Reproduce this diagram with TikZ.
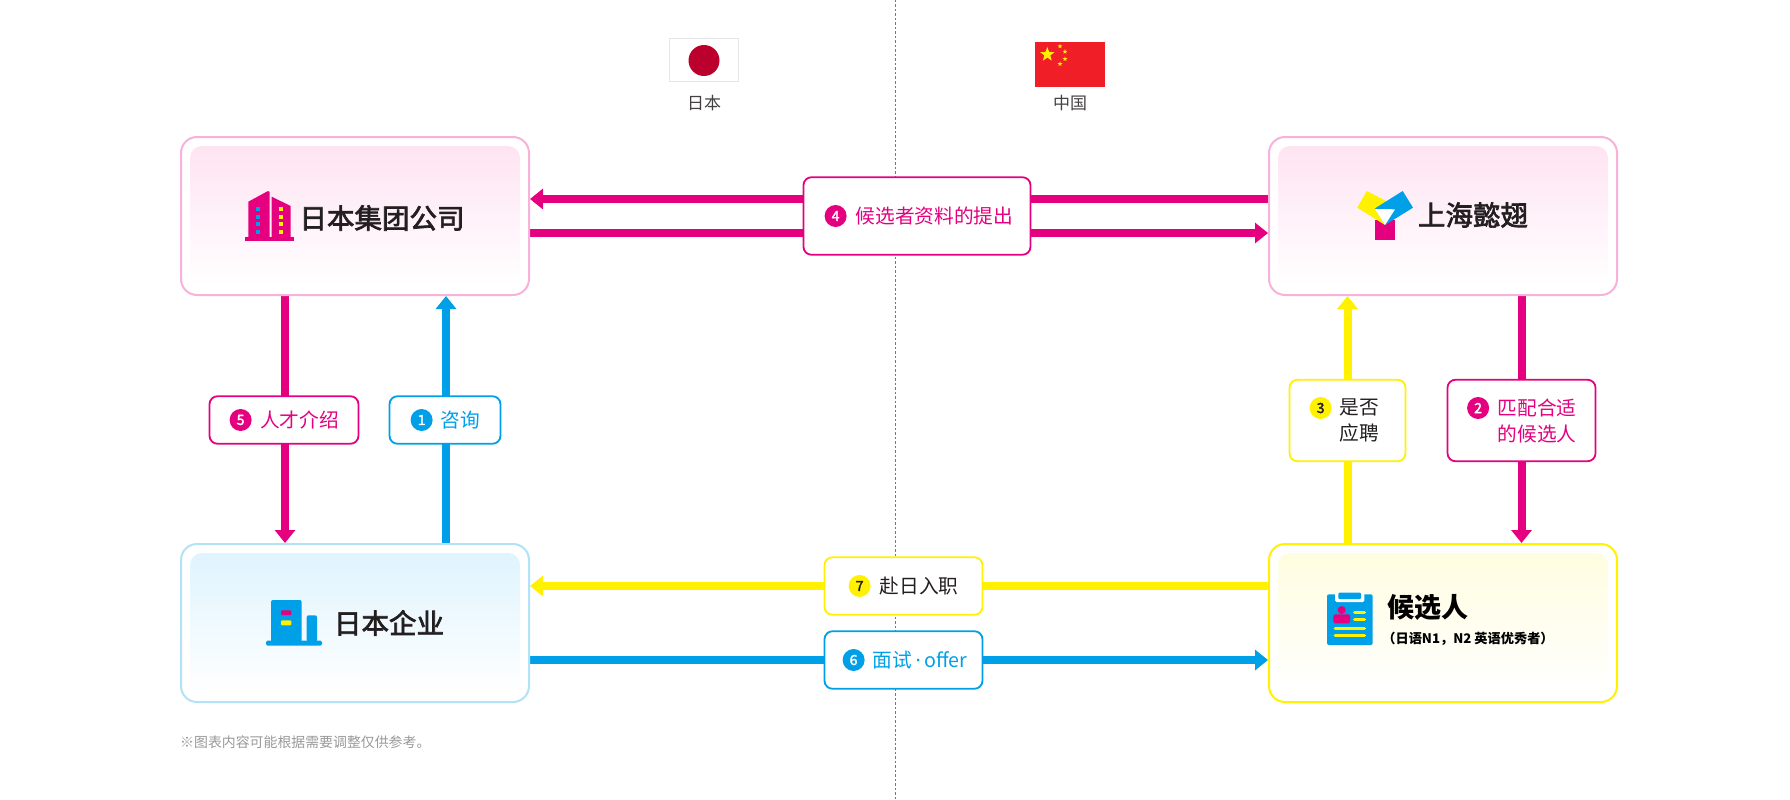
\documentclass[tikz,border=0pt]{standalone}
\usepackage{fontspec}
\setmainfont{Noto Sans CJK SC}
\newfontfamily\cjkmedium[FakeBold=2.5]{Noto Sans CJK SC}
\newfontfamily\latindot{Noto Sans}
\usetikzlibrary{shapes.geometric, arrows.meta, positioning, backgrounds}

\definecolor{brandpink}{HTML}{E4007F}
\definecolor{brandblue}{HTML}{00A0E9}
\definecolor{brandyellow}{HTML}{FFF100}
\definecolor{inkdark}{HTML}{231F20}
\definecolor{glowpink}{HTML}{FEE4F2}
\definecolor{glowblue}{HTML}{DFF4FE}
\definecolor{glowyellow}{HTML}{FFFDE0}
\definecolor{japanred}{HTML}{BC002D}
\definecolor{chinared}{HTML}{F01E26}

\newcommand{\numgap}{\hspace*{31pt}}

\begin{document}
\begin{tikzpicture}[x=1pt, y=-1pt]
\tikzset{
  party/.style={
    rectangle, rounded corners=16pt, draw, line width=2pt, fill=white,
    minimum width=348pt, minimum height=158pt, inner sep=0pt
  },
  glow/.style={
    rectangle, rounded corners=12pt, bottom color=white,
    minimum width=330pt, minimum height=140pt, inner sep=0pt
  },
  title/.style={font=\fontsize{27.5}{30}\selectfont\cjkmedium, text=inkdark, inner sep=0pt},
  flagname/.style={font=\fontsize{17}{20}\selectfont, text=inkdark!85, inner sep=0pt},
  stepnote/.style={
    rectangle, rounded corners=8pt, draw, line width=1.8pt, fill=white, align=left,
    font=\fontsize{19.7}{26}\selectfont, inner sep=0pt
  },
  stepnum/.style={
    circle, inner sep=0pt, minimum size=22pt, text=white,
    font=\fontsize{14}{14}\selectfont\cjkmedium
  },
  flow/.style={-{Triangle[length=13pt, width=20pt]}, line width=8pt},
  flagstar/.style={
    star, star points=5, star point ratio=2.4, fill=brandyellow, inner sep=0pt
  },
}

\useasboundingbox (0,0) rectangle (1790,800);

%% ---- PARTIES ----
\node[party, draw=brandpink!30] (groupco) at (355,216) {};
\node[glow, top color=glowpink] (groupglow) at (355,216) {};
\node[title] (grouptxt) at (382,218) {日本集团公司};

\node[party, draw=brandpink!30] (yishi) at (1443,216) {};
\node[glow, top color=glowpink] (yishiglow) at (1443,216) {};
\node[title] (yishitxt) at (1473,215) {上海懿翅};

\node[party, draw=brandblue!30] (company) at (355,623) {};
\node[glow, top color=glowblue] (companyglow) at (355,623) {};
\node[title] (companytxt) at (389,623) {日本企业};

\node[party, draw=brandyellow] (talent) at (1443,623) {};
\node[glow, top color=glowyellow] (talentglow) at (1443,623) {};
\node[title, font=\fontsize{27}{30}\selectfont\bfseries, text=black] (talenttxt) at (1427.5,607) {候选人};
\node[inner sep=0pt, font=\fontsize{13.2}{15}\selectfont\bfseries, text=black] (talentsub) at (1468,639) {（日语N1，N2 英语优秀者）};

%% ---- FLAGS ----
\node[flagname] (jpname) at (704,103) {日本};
\node[flagname] (cnname) at (1070,103) {中国};

\draw[black!10, line width=1pt, fill=white] (669.5,38.5) rectangle (738.5,81.5);
\fill[japanred] (704,60.5) circle (15.5);

\fill[chinared] (1035,42) rectangle (1105,87);
\node[flagstar, minimum size=15pt] (bigstar) at (1047.3,54.5) {};
\foreach \sx/\sy [count=\si] in {1060/46.3, 1065/51.7, 1065/59, 1060/64}
  \node[flagstar, minimum size=5pt] (star\si) at (\sx,\sy) {};

%% ---- STEP NOTES ----
\node[stepnote, draw=brandblue, text=brandblue, minimum width=111pt, minimum height=47.5pt] (note1) at (445,420) {\numgap 咨询};
\node[stepnum, fill=brandblue] (num1) at ([xshift=33pt]note1.west) {1};

\node[stepnote, draw=brandpink, text=brandpink, minimum width=148pt, minimum height=81.5pt] (note2) at (1521.5,420.5) {\numgap 匹配合适\\\numgap 的候选人};
\node[stepnum, fill=brandpink] (num2) at ([xshift=31.5pt, yshift=12.5pt]note2.west) {2};

\node[stepnote, draw=brandyellow, text=inkdark, minimum width=116pt, minimum height=81.5pt] (note3) at (1347.5,420.5) {\hspace*{24pt}是否\\\hspace*{24pt}应聘};
\node[stepnum, fill=brandyellow, text=inkdark] (num3) at ([xshift=32pt, yshift=12.5pt]note3.west) {3};

\node[stepnote, draw=brandpink, text=brandpink, minimum width=227pt, minimum height=77.5pt] (note4) at (917,216) {\hspace*{35pt}候选者资料的提出};
\node[stepnum, fill=brandpink] (num4) at ([xshift=33pt]note4.west) {4};

\node[stepnote, draw=brandpink, text=brandpink, minimum width=149pt, minimum height=47.5pt] (note5) at (284,420) {\numgap 人才介绍};
\node[stepnum, fill=brandpink] (num5) at ([xshift=32pt]note5.west) {5};

\node[stepnote, draw=brandblue, text=brandblue, minimum width=158pt, minimum height=57.5pt] (note6) at (903.5,660) {\hspace*{33pt}面试{\latindot\,·\,}offer};
\node[stepnum, fill=brandblue] (num6) at ([xshift=30pt]note6.west) {6};

\node[stepnote, draw=brandyellow, text=inkdark, minimum width=158pt, minimum height=57.5pt] (note7) at (903.5,586) {\numgap 赴日入职};
\node[stepnum, fill=brandyellow, text=inkdark] (num7) at ([xshift=36pt]note7.west) {7};

%% ---- CONNECTORS ----
\begin{scope}[on background layer]
  \draw[brandblue, line width=1.2pt, dash pattern=on 2.5pt off 2pt] (895.8,0) -- (895.8,800);

  \draw[flow, brandblue] ([xshift=1pt]note1.center |- company.north) -- ([xshift=1pt]note1.center |- groupco.south);
  \draw[flow, brandpink] ([xshift=1pt]note5.center |- groupco.south) -- ([xshift=1pt]note5.center |- company.north);
  \draw[flow, brandyellow] (note3.center |- talent.north) -- (note3.center |- yishi.south);
  \draw[flow, brandpink] (note2.center |- yishi.south) -- (note2.center |- talent.north);

  \draw[flow, brandpink] ([yshift=17pt]note4.center -| yishi.west) -- ([yshift=17pt]note4.center -| groupco.east);
  \draw[flow, brandpink] ([yshift=-17pt]note4.center -| groupco.east) -- ([yshift=-17pt]note4.center -| yishi.west);
  \draw[flow, brandyellow] (note7.center -| talent.west) -- (note7.center -| company.east);
  \draw[flow, brandblue] (note6.center -| company.east) -- (note6.center -| talent.west);
\end{scope}

%% ---- ICONS ----
% group building
\fill[brandpink] (245,237) rectangle (294,241);
\fill[brandpink] (248.3,237) -- (248.3,201.7) -- (268,191) -- (269.7,192) -- (269.7,237) -- cycle;
\fill[brandpink] (271.7,237) -- (271.7,196.7) -- (290.7,206) -- (290.7,237) -- cycle;
\foreach \wy in {209,216.7,224,231.7} {
  \fill[brandblue] (255.7,\wy-2) rectangle ++(4,4);
  \fill[brandyellow] (279,\wy-2) rectangle ++(4,4);
}
% logo
\fill[brandpink] (1374.7,220) rectangle (1395.3,240);
\fill[brandyellow] (1366.7,191) -- (1357.3,207.7) -- (1385,225) -- (1390,203) -- cycle;
\fill[brandblue] (1375,208.3) -- (1402.7,191) -- (1413,207.7) -- (1385,225) -- cycle;
\fill[white] (1375,209) -- (1395,209.3) -- (1385,225) -- cycle;
% company building
\fill[brandblue, rounded corners=1.5pt] (266,640.7) rectangle (322,645.7);
\fill[brandblue, rounded corners=2pt] (271,642) rectangle (301.7,600);
\fill[brandblue, rounded corners=2pt] (306.7,642) rectangle (317,615.3);
\fill[brandpink, rounded corners=1pt] (281,610.3) rectangle (291.3,615);
\fill[brandyellow, rounded corners=1pt] (281,620.3) rectangle (291.3,625.3);
% clipboard
\fill[brandblue, rounded corners=2pt] (1327,594.3) rectangle (1372.7,645);
\fill[white, rounded corners=1.5pt] (1335,592) rectangle (1364.3,602);
\fill[brandblue, rounded corners=1pt] (1338.3,592.7) rectangle (1361,599);
\fill[brandpink] (1341.7,610) circle (4);
\fill[brandpink, rounded corners=1.5pt] (1333.3,623.3) rectangle (1350,614.3);
\foreach \ly in {612.3,619} \draw[brandyellow, line width=3pt, line cap=round] (1354.5,\ly) -- (1364.5,\ly);
\foreach \ly in {628.7,635.3} \draw[brandyellow, line width=3pt, line cap=round] (1335,\ly) -- (1364.5,\ly);

%% ---- NOTE ----
\node[anchor=west, inner sep=0pt, font=\fontsize{13.9}{16}\selectfont, text=black!40] (footnote) at (180,742) {※图表内容可能根据需要调整仅供参考。};

\end{tikzpicture}
\end{document}
